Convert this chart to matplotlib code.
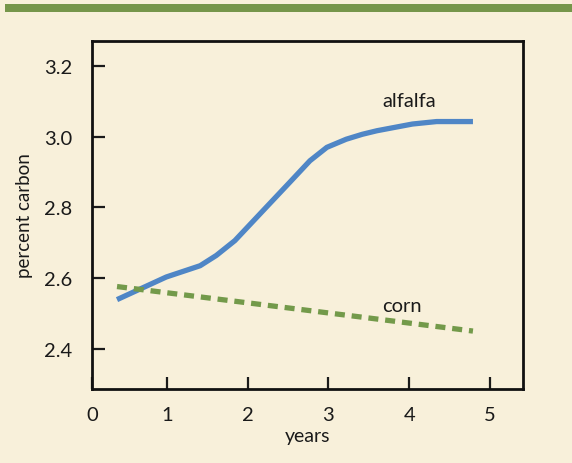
import matplotlib
matplotlib.use('Agg')
import matplotlib.pyplot as plt
from matplotlib.patches import Rectangle

# values
alfalfa_years = [0.38, 0.99, 1.41, 1.61, 1.84, 2.19, 2.52, 2.77, 2.98, 3.22, 3.42, 3.60, 4.04, 4.34, 4.79]
alfalfa_carbon = [2.539, 2.603, 2.635, 2.664, 2.706, 2.791, 2.871, 2.932, 2.970, 2.993, 3.007, 3.017, 3.036, 3.043, 3.043]
corn_years = [0.38, 2.03, 4.79]
corn_carbon = [2.576, 2.529, 2.450]
x_ticks = [1, 2, 3, 4, 5]
y_ticks = [2.4, 2.6, 2.8, 3.0, 3.2]
y_labels = ['2.4', '2.6', '2.8', '3.0', '3.2']

bg = '#f8f0da'
blue = '#4f86c6'
green = '#739a4a'

plt.rcParams['font.family'] = ['Lato', 'DejaVu Sans']

fig = plt.figure(figsize=(5.72, 4.64), dpi=100, facecolor=bg)
ax = fig.add_axes([92 / 572, 1 - 390 / 464, 431 / 572, 348 / 464])
ax.set_facecolor(bg)

# green strip along the top
fig.patches.append(Rectangle((5 / 572, 1 - 13 / 464), 1, 8 / 464,
                             transform=fig.transFigure, color='#76964a', lw=0))

ax.plot(alfalfa_years, alfalfa_carbon, color=blue, lw=3.8, solid_capstyle='butt',
        solid_joinstyle='round')
ax.plot(corn_years, corn_carbon, color=green, lw=3.8, dashes=(1.9, 1.3), dash_capstyle='butt')

ax.text(4.0, 3.087, 'alfalfa', fontsize=14.5, ha='center', va='baseline', color='#1a1a1a')
ax.text(3.91, 2.507, 'corn', fontsize=14.5, ha='center', va='baseline', color='#1a1a1a')

ax.set_xlim(0.07, 5.41)
ax.set_ylim(2.286, 3.271)
ax.set_xticks([0.07] + x_ticks, ['0'] + [str(t) for t in x_ticks])
ax.set_yticks(y_ticks, y_labels)
ax.tick_params(direction='in', length=9, width=1.6, labelsize=14.5, pad=12, colors='#1a1a1a')
ax.tick_params(axis='y', pad=14)
for s in ax.spines.values():
    s.set_linewidth(2)
    s.set_color('#111111')

ax.set_xlabel('years', fontsize=14, labelpad=3, color='#1a1a1a')
ax.set_ylabel('percent carbon', fontsize=13.5, labelpad=8, color='#1a1a1a')

fig.savefig('out.png', dpi=100, facecolor=bg)
